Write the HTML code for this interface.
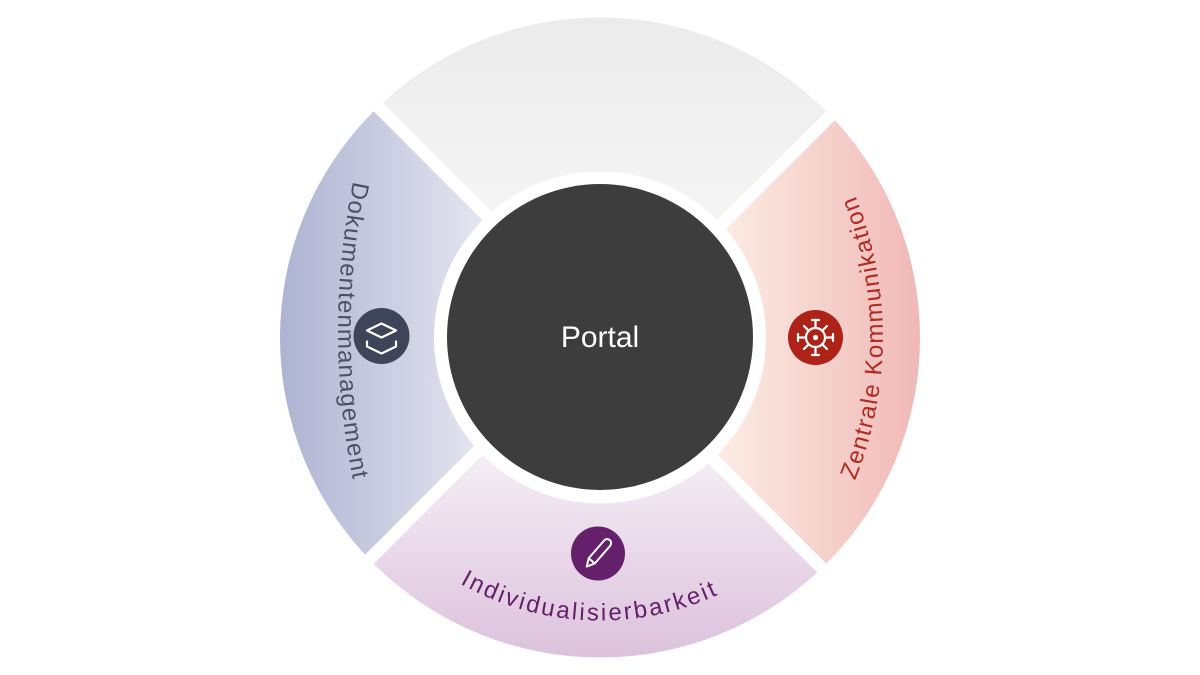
<!DOCTYPE html>
<html>
<head>
<meta charset="utf-8">
<style>
  html, body { margin: 0; padding: 0; background: #ffffff; }
  body { width: 1200px; height: 675px; overflow: hidden; }
  svg { display: block; }
  text { font-family: "Liberation Sans", "DejaVu Sans", sans-serif; }
</style>
</head>
<body>
<svg width="1200" height="675" viewBox="0 0 1200 675" xmlns="http://www.w3.org/2000/svg">
  <defs>
    <linearGradient id="gLeft" gradientUnits="userSpaceOnUse" x1="280" y1="0" x2="485" y2="0">
      <stop offset="0" stop-color="#aeb3d2"/>
      <stop offset="1" stop-color="#e5e6f0"/>
    </linearGradient>
    <linearGradient id="gTop" gradientUnits="userSpaceOnUse" x1="0" y1="18" x2="0" y2="220">
      <stop offset="0" stop-color="#ebebeb"/>
      <stop offset="1" stop-color="#f5f5f5"/>
    </linearGradient>
    <linearGradient id="gRight" gradientUnits="userSpaceOnUse" x1="718" y1="0" x2="920" y2="0">
      <stop offset="0" stop-color="#fcede4"/>
      <stop offset="1" stop-color="#f0b8b7"/>
    </linearGradient>
    <linearGradient id="gBottom" gradientUnits="userSpaceOnUse" x1="0" y1="455" x2="0" y2="657">
      <stop offset="0" stop-color="#f5eef5"/>
      <stop offset="1" stop-color="#dcc2dc"/>
    </linearGradient>
    <path id="pLeft" d="M 365.2 131 A 750 750 0 0 0 365.2 531" fill="none"/>
    <path id="pRight" d="M 826 537.5 A 380 380 0 0 0 826 137.5" fill="none"/>
    <path id="pBottom" d="M 354.9 479 A 283 283 0 0 0 845.1 479" fill="none"/>
  </defs>

  <!-- segments -->
  <path d="M 600 337.5 L 373.73 563.77 A 320 320 0 0 1 373.73 111.23 Z" fill="url(#gLeft)"/>
  <path d="M 600 337.5 L 373.73 111.23 A 320 320 0 0 1 826.27 111.23 Z" fill="url(#gTop)"/>
  <path d="M 600 337.5 L 826.27 111.23 A 320 320 0 0 1 826.27 563.77 Z" fill="url(#gRight)"/>
  <path d="M 600 337.5 L 826.27 563.77 A 320 320 0 0 1 373.73 563.77 Z" fill="url(#gBottom)"/>

  <!-- white gaps (pinwheel offset) -->
  <g fill="#ffffff">
    <rect x="-2" y="0" width="340" height="12.5" transform="translate(600 337.5) rotate(-135)"/>
    <rect x="-2" y="0" width="340" height="12.5" transform="translate(600 337.5) rotate(-45)"/>
    <rect x="-2" y="0" width="340" height="12.5" transform="translate(600 337.5) rotate(45)"/>
    <rect x="-2" y="0" width="340" height="12.5" transform="translate(600 337.5) rotate(135)"/>
  </g>

  <!-- inner white ring and dark center -->
  <circle cx="600" cy="337.5" r="166" fill="#ffffff"/>
  <circle cx="600" cy="337" r="153" fill="#3d3d3d"/>
  <text x="600" y="347" text-anchor="middle" font-size="30" fill="#ffffff">Portal</text>

  <!-- arc labels -->
  <text font-size="24" fill="#4b5063" letter-spacing="1.25">
    <textPath href="#pLeft" startOffset="50%" text-anchor="middle">Dokumentenmanagement</textPath>
  </text>
  <text font-size="24" fill="#b02a1f" letter-spacing="1.5">
    <textPath href="#pRight" startOffset="50%" text-anchor="middle">Zentrale Kommunikation</textPath>
  </text>
  <text font-size="24" fill="#64206b" letter-spacing="2.4">
    <textPath href="#pBottom" startOffset="285" text-anchor="middle">Individualisierbarkeit</textPath>
  </text>

  <!-- left icon: layers -->
  <circle cx="381.5" cy="336" r="28" fill="#3e4558"/>
  <g fill="none" stroke="#ffffff" stroke-width="2.2" stroke-linejoin="round" stroke-linecap="round">
    <path d="M 381.5 323.5 L 396 330.5 L 381.5 337.5 L 367 330.5 Z"/>
    <path d="M 367 341.5 L 367 346.5 L 381.5 353.5 L 396 346.5 L 396 341.5"/>
  </g>

  <!-- right icon: wheel -->
  <circle cx="815.5" cy="337.5" r="27.5" fill="#ae2318"/>
  <g stroke="#ffffff" stroke-width="2.2" stroke-linecap="round" fill="none">
    <circle cx="815.5" cy="337.5" r="9.5"/>
    <line x1="815.5" y1="328" x2="815.5" y2="320"/>
    <line x1="815.5" y1="347" x2="815.5" y2="355"/>
    <line x1="806" y1="337.5" x2="798" y2="337.5"/>
    <line x1="825" y1="337.5" x2="833" y2="337.5"/>
    <line x1="812" y1="320" x2="819" y2="320"/>
    <line x1="812" y1="355" x2="819" y2="355"/>
    <line x1="798" y1="334" x2="798" y2="341"/>
    <line x1="833" y1="334" x2="833" y2="341"/>
    <line x1="808.8" y1="330.8" x2="804" y2="326"/>
    <line x1="822.2" y1="330.8" x2="827" y2="326"/>
    <line x1="808.8" y1="344.2" x2="804" y2="349"/>
    <line x1="822.2" y1="344.2" x2="827" y2="349"/>
  </g>
  <circle cx="815.5" cy="337.5" r="2.6" fill="#ffffff"/>

  <!-- bottom icon: pencil -->
  <circle cx="598" cy="553.5" r="27" fill="#64206b"/>
  <g transform="translate(598.3 553.3) rotate(-49)" fill="none" stroke="#ffffff" stroke-width="2" stroke-linejoin="round">
    <path d="M -10 -4 L 13.5 -4 A 4 4 0 0 1 13.5 4 L -10 4 L -17.5 0 Z"/>
    <line x1="-10" y1="-4" x2="-10" y2="4"/>
  </g>
</svg>
</body>
</html>
